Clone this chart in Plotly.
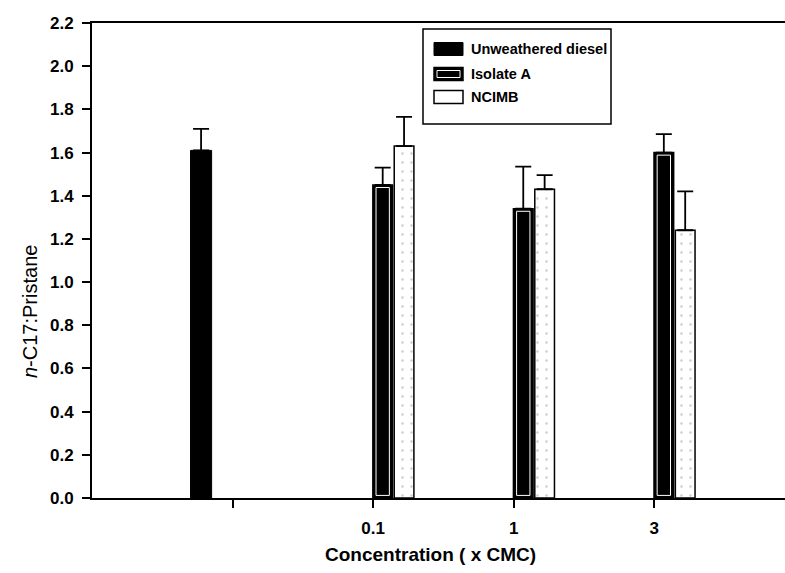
import plotly.graph_objects as go

# ---- data ----
tick_pos = [1, 2, 3, 4]
tick_labels = ["", "0.1", "1", "3"]

unweathered_pos = [1]
unweathered = [1.61]
unweathered_err = [0.10]

conc_pos = [2, 3, 4]
isolate_a = [1.45, 1.34, 1.60]
isolate_a_err = [0.08, 0.195, 0.085]

ncimb = [1.63, 1.43, 1.24]
ncimb_err = [0.135, 0.065, 0.18]

legend_names = ["Unweathered diesel", "Isolate A", "NCIMB"]
x_title = "Concentration ( x CMC)"
y_title = "<i>n</i>-C17:Pristane"

# ---- style constants ----
W, H = 785, 573
ML, MR, MT, MB = 92, 0, 23, 75
X_RANGE = [0, 4.93]
BAR_W = 0.14
UNW_W = 0.15
OFF_UNW = -0.224
OFF_ISO = 0.068
OFF_NC = 0.22
INSET = 0.012

FONT = "Liberation Sans, Arial, sans-serif"
PW, PH = W - ML - MR, H - MT - MB


def px(x):
    return (x - ML) / PW


def py(y):
    return (H - MB - y) / PH


err_style = dict(type="data", symmetric=False, color="black", thickness=1.8, width=8)
nc_pattern = dict(shape=".", fgcolor="#9a9a9a", bgcolor="white", size=9, solidity=0.06)

fig = go.Figure()

fig.add_trace(go.Bar(
    name=legend_names[0],
    x=[p + OFF_UNW for p in unweathered_pos], y=unweathered, width=UNW_W,
    marker=dict(color="black", line=dict(color="black", width=1)),
    error_y=dict(array=unweathered_err, arrayminus=[0] * len(unweathered), **err_style),
))

fig.add_trace(go.Bar(
    name=legend_names[1],
    x=[p + OFF_ISO for p in conc_pos], y=isolate_a, width=BAR_W,
    marker=dict(color="black", line=dict(color="black", width=1.5)),
    error_y=dict(array=isolate_a_err, arrayminus=[0] * len(isolate_a), **err_style),
))
# inner white ring of the Isolate A bars
fig.add_trace(go.Bar(
    name=legend_names[1], showlegend=False, hoverinfo="skip",
    x=[p + OFF_ISO for p in conc_pos], y=[v - 2 * INSET for v in isolate_a],
    base=[INSET] * len(isolate_a), width=BAR_W - 0.045,
    marker=dict(color="black", line=dict(color="white", width=1)),
))

fig.add_trace(go.Bar(
    name=legend_names[2],
    x=[p + OFF_NC for p in conc_pos], y=ncimb, width=BAR_W,
    marker=dict(color="white", line=dict(color="black", width=1.5), pattern=nc_pattern),
    error_y=dict(array=ncimb_err, arrayminus=[0] * len(ncimb), **err_style),
))

# ---- manual legend (box, swatches, labels) ----
shapes = [dict(type="rect", xref="paper", yref="paper",
               x0=px(423), x1=px(611), y0=py(124), y1=py(29),
               line=dict(color="black", width=1.5), fillcolor="white", layer="above")]
annotations = []
row_y = [49, 74, 97]
sw_x0, sw_x1, sw_h = 434, 463, 13
for i, (name, ry) in enumerate(zip(legend_names, row_y)):
    if i == 0:
        shapes.append(dict(type="rect", xref="paper", yref="paper",
                           x0=px(sw_x0), x1=px(sw_x1), y0=py(ry + sw_h / 2), y1=py(ry - sw_h / 2),
                           line=dict(color="black", width=1), fillcolor="black", layer="above"))
    elif i == 1:
        shapes.append(dict(type="rect", xref="paper", yref="paper",
                           x0=px(sw_x0), x1=px(sw_x1), y0=py(ry + sw_h / 2), y1=py(ry - sw_h / 2),
                           line=dict(color="black", width=1.5), fillcolor="black", layer="above"))
        shapes.append(dict(type="rect", xref="paper", yref="paper",
                           x0=px(sw_x0 + 3), x1=px(sw_x1 - 3), y0=py(ry + sw_h / 2 - 3), y1=py(ry - sw_h / 2 + 3),
                           line=dict(color="white", width=1), fillcolor="black", layer="above"))
    else:
        shapes.append(dict(type="rect", xref="paper", yref="paper",
                           x0=px(sw_x0), x1=px(sw_x1), y0=py(ry + sw_h / 2), y1=py(ry - sw_h / 2),
                           line=dict(color="black", width=1.5), fillcolor="white", layer="above"))
    annotations.append(dict(xref="paper", yref="paper", x=px(469), y=py(ry),
                            xanchor="left", yanchor="middle", showarrow=False, text=name,
                            font=dict(family=FONT, size=14.5, color="black", weight="bold")))

# axis titles placed as annotations (off-centre, as in the original)
annotations.append(dict(xref="paper", yref="paper", x=px(430), y=py(554),
                        xanchor="center", yanchor="middle", showarrow=False, text=x_title,
                        font=dict(family=FONT, size=19, color="black", weight="bold")))
annotations.append(dict(xref="paper", yref="paper", x=px(30), y=py(312),
                        xanchor="center", yanchor="middle", showarrow=False, text=y_title,
                        textangle=-90,
                        font=dict(family=FONT, size=20, color="black")))

fig.update_layout(
    width=W, height=H,
    margin=dict(l=ML, r=MR, t=MT, b=MB),
    paper_bgcolor="white", plot_bgcolor="white",
    barmode="overlay",
    font=dict(family=FONT, color="black"),
    showlegend=False,
    shapes=shapes,
    annotations=annotations,
)

fig.update_xaxes(
    range=X_RANGE,
    tickmode="array", tickvals=tick_pos, ticktext=tick_labels,
    ticks="outside", ticklen=8, tickwidth=1.5, tickcolor="black",
    showline=True, linecolor="black", linewidth=2, mirror=True,
    showgrid=False, zeroline=False, ticklabelstandoff=6,
    tickfont=dict(family=FONT, size=17, color="black", weight="bold"),
)

fig.update_yaxes(
    range=[0, 2.2], dtick=0.2, tick0=0, tickformat=".1f",
    ticks="outside", ticklen=8, tickwidth=1.5, tickcolor="black",
    showline=True, linecolor="black", linewidth=2,
    showgrid=False, zeroline=False, ticklabelstandoff=5,
    tickfont=dict(family=FONT, size=17, color="black", weight="bold"),
)

fig.write_html("out.html")
